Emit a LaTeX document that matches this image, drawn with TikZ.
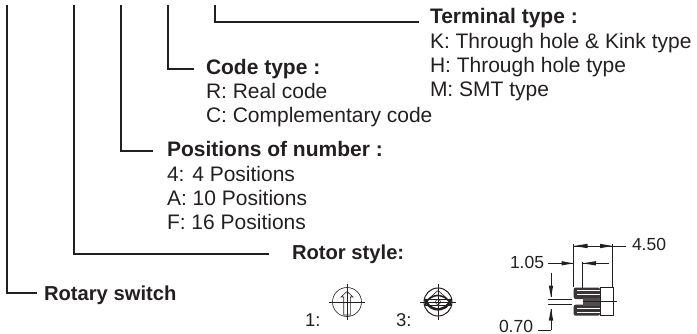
\documentclass[tikz,border=0pt]{standalone}
\usepackage{fontspec}
\setmainfont{Liberation Sans}
\definecolor{ink}{HTML}{231F20}
\tikzset{
 x=1pt,y=-1pt,
 leader/.style={draw=ink,line width=1.1pt},
 thinline/.style={draw=ink,line width=0.6pt},
 txt/.style={anchor=base west,inner sep=0pt,outer sep=0pt,text=ink,font=\fontsize{21}{21}\selectfont},
 head/.style={txt,font=\fontsize{21}{21}\selectfont\bfseries},
 headb/.style={txt,font=\fontsize{20.2}{21}\selectfont\bfseries},
 dimt/.style={txt,font=\fontsize{17.5}{18}\selectfont},
 numt/.style={txt,font=\fontsize{18.5}{19}\selectfont},
 tip/.style={fill=ink,draw=none},
}
\begin{document}
\begin{tikzpicture}
\useasboundingbox (0,0) rectangle (697,334);
% leaders
\coordinate (a0) at (7,5); \coordinate (a1) at (7,293); \coordinate (a2) at (37,293);
\coordinate (b0) at (74,5); \coordinate (b1) at (74,254); \coordinate (b2) at (269,254);
\coordinate (c0) at (121,5); \coordinate (c1) at (121,151); \coordinate (c2) at (153,151);
\coordinate (d0) at (168,5); \coordinate (d1) at (168,69); \coordinate (d2) at (194,69);
\coordinate (e0) at (215,5); \coordinate (e1) at (215,22); \coordinate (e2) at (419,22);
\draw[leader] (a0)--(a1)--(a2);
\draw[leader] (b0)--(b1)--(b2);
\draw[leader] (c0)--(c1)--(c2);
\draw[leader] (d0)--(d1)--(d2);
\draw[leader] (e0)--(e1)--(e2);
% text
\node[head] (t1) at (430,24) {Terminal type :};
\node[txt] (t2) at (430,49) {K: Through hole \& Kink type};
\node[txt] (t3) at (430,73) {H: Through hole type};
\node[txt] (t4) at (430,97) {M: SMT type};
\node[head] (c1t) at (206,75) {Code type :};
\node[txt] (c2t) at (206,99) {R: Real code};
\node[txt] (c3t) at (206,123) {C: Complementary code};
\node[head] (p1) at (167,157) {Positions of number :};
\node[txt] (p2) at (167,182) {4: 4 Positions};
\node[txt] (p3) at (167,206) {A: 10 Positions};
\node[txt] (p4) at (167,230) {F: 16 Positions};
\node[headb] (r1) at (292,259) {Rotor style:};
\node[headb] (s1) at (44,301) {Rotary switch};
\node[numt] (n1) at (305,326) {1:};
\node[numt] (n3) at (396,326) {3:};
\node[dimt] (d1t) at (510,269) {1.05};
\node[dimt] (d2t) at (632,251) {4.50};
\node[dimt] (d3t) at (499,332.800) {0.70};
% rotor 1
\begin{scope}[shift={(347,302)}]
\draw[thinline] (0,0) circle (14.5);
\draw[thinline] (-18,0)--(18,0) (0,-18)--(0,18);
\draw[thinline] (-3.3,13)--(-3.3,-5)--(-6,-5)--(0,-10.5)--(6,-5)--(3.3,-5)--(3.3,13)--cycle;
\end{scope}
% rotor 3
\begin{scope}[shift={(438,302)}]
\draw[thinline,line width=1pt] (0,0) circle (14);
\draw[thinline] (-18,0)--(18,0) (0,-18)--(0,18);
\draw[ink,line width=2.6pt] (13,-3) arc[start angle=13,end angle=167,radius=13.3];
\draw[ink,line width=1.6pt] (13,3.5) arc[start angle=-15,end angle=-165,radius=13.5];
\draw[thinline] (-9,-3.5) -- (0,-11.5) -- (9,-3.5);
\draw[thinline] (-13,-3)--(13,-3) (-13,3)--(13,3);
\draw[thinline] (0,0) circle (2.5);
\end{scope}
% dimensions
\draw[thinline] (573.700,244)--(573.700,287) (612.700,244)--(612.700,287) (612.700,246)--(626,246);
\draw[thinline] (573.700,246)--(612.700,246);
\fill[tip] (573.700,246)--(587.500,243.800)--(587.500,248.200)--cycle (612.700,246)--(600,243.800)--(600,248.200)--cycle;
\draw[thinline] (548,263.300)--(573,263.300);
\fill[tip] (573.300,263.300)--(561.500,261.100)--(561.500,265.500)--cycle;
\draw[thinline] (582.700,262)--(582.700,290) (582.700,263.300)--(609,263.300);
\fill[tip] (582.700,263.300)--(596,261.100)--(596,265.500)--cycle;
\draw[thinline] (551,272.700)--(551,297) (551,330)--(551,309) (538,330)--(551,330);
\fill[tip] (551,297)--(548.800,285.500)--(553.200,285.500)--cycle (551,309)--(548.800,320.500)--(553.200,320.500)--cycle;
\draw[thinline] (548,299)--(571.700,299) (548,304.700)--(571.700,304.700);
% body
\draw[thinline] (600,287.500) rectangle (613,315.700);
\fill[ink!90,rounded corners=2pt] (600,287.500)--(573.700,287.500)--(573.700,299)--(600,299)--cycle;
\fill[ink!90,rounded corners=2pt] (600,304.700)--(573.700,304.700)--(573.700,315.700)--(600,315.700)--cycle;
\fill[ink!80] (582.700,298) rectangle (600,306);
\draw[white,line width=0.8pt] (577,290.500)--(600,290.500) (577,294.500)--(600,294.500) (577,308)--(600,308) (577,312)--(600,312);
\draw[thinline] (582.700,301.300)--(616.700,301.300);
\end{tikzpicture}
\end{document}
